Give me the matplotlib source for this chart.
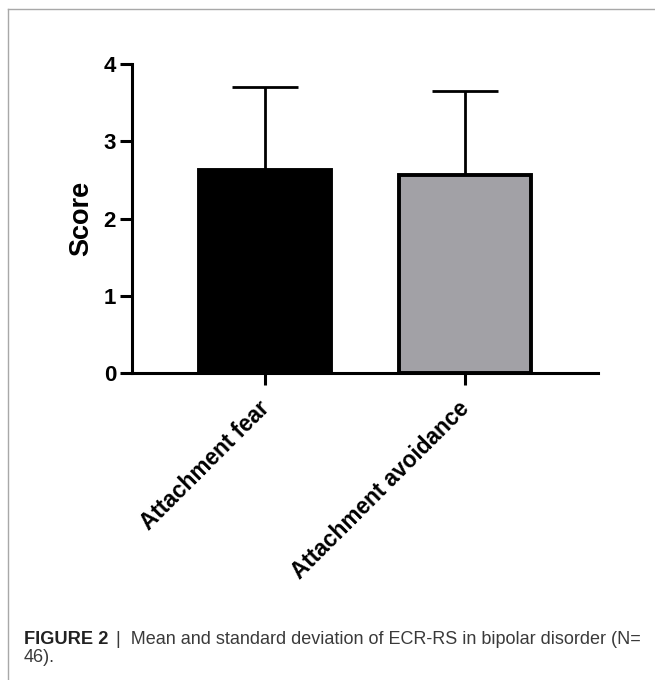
import matplotlib
matplotlib.use("Agg")
import matplotlib.pyplot as plt
from matplotlib.lines import Line2D
from matplotlib.transforms import ScaledTranslation

categories = ["Attachment fear", "Attachment avoidance"]
means = [2.63, 2.56]
sds = [1.07, 1.09]
bar_colors = ["#000000", "#a2a1a6"]
y_ticks = [0, 1, 2, 3, 4]
y_label = "Score"
caption_bold = "FIGURE 2"
caption_rest = "|  Mean and standard deviation of ECR-RS in bipolar disorder (N="
caption_line2 = "46)."

W, H = 655, 680
plt.rcParams['font.family'] = ['Liberation Sans', 'DejaVu Sans']
fig = plt.figure(figsize=(W / 100, H / 100), dpi=100)
ax = fig.add_axes([132 / W, 1 - 373 / H, (598 - 132) / W, (373 - 64) / H])

x = list(range(len(categories)))
ax.bar(x, means, width=0.66, color=bar_colors, edgecolor="black", linewidth=2.8, zorder=3)
ax.errorbar(x, means, yerr=[[0] * len(sds), sds], fmt="none", ecolor="black",
            elinewidth=2.0, capsize=23.5, capthick=2.0, zorder=2)

ax.set_xlim(-0.665, len(categories) - 1 + 0.665)
ax.set_ylim(0, 4)
ax.set_yticks(y_ticks)
ax.set_xticks(x)
ax.set_xticklabels(categories, rotation=45, ha="right", rotation_mode="default",
                   fontsize=16.3, fontweight="bold")
ax.set_yticklabels([str(t) for t in y_ticks], fontsize=16, fontweight="bold")
ax.set_ylabel(y_label, fontsize=19.5, fontweight="bold", labelpad=7)
for s in ["top", "right"]:
    ax.spines[s].set_visible(False)
for s in ["left", "bottom"]:
    ax.spines[s].set_linewidth(2.2)
ax.tick_params(axis="both", width=2.2, length=8.5, pad=3)
off = ScaledTranslation(0.09, -0.08, fig.dpi_scale_trans)
for lab in ax.get_xticklabels():
    lab.set_transform(lab.get_transform() + off)

# frame
fig.add_artist(Line2D([8 / W, 1.0], [1 - 9 / H, 1 - 9 / H], transform=fig.transFigure,
                      color="#a8a8a8", linewidth=1.0))
fig.add_artist(Line2D([8 / W, 8 / W], [0, 1 - 9 / H], transform=fig.transFigure,
                      color="#a8a8a8", linewidth=1.0))

# caption: size chosen so the line spans the same width as the reference
renderer = fig.canvas.get_renderer()
tb = fig.text(24 / W, 1 - 644 / H, caption_bold, fontsize=12, fontweight="bold", color="#222222")
bw = tb.get_window_extent(renderer).width
tb.set_fontsize(12 * 84 / bw)
tr = fig.text(116 / W, 1 - 644 / H, caption_rest, fontsize=12, color="#3a3a3a")
rw = tr.get_window_extent(renderer).width
tr.set_fontsize(12 * (641 - 116) / rw)
fig.text(24 / W, 1 - 662 / H, caption_line2, fontsize=tr.get_fontsize(), color="#3a3a3a")

fig.savefig("out.png", dpi=100)
